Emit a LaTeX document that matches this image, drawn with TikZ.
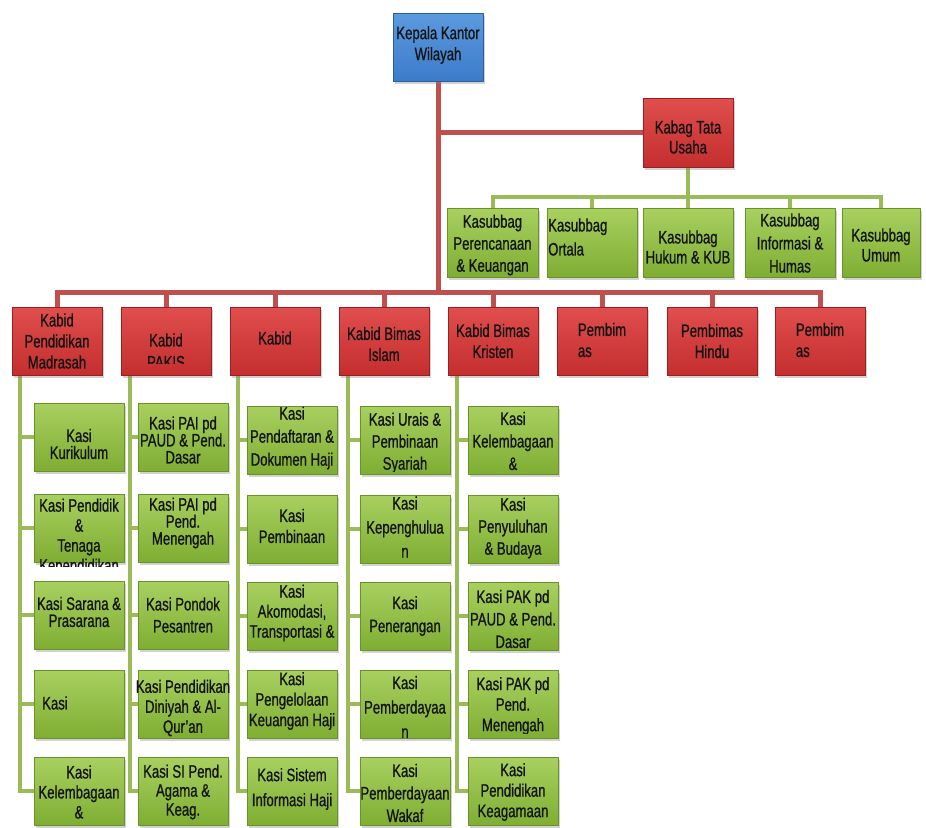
\documentclass[tikz,border=0pt]{standalone}
\usepackage{fontspec}
\setmainfont{Liberation Sans}[FakeStretch=0.73,FakeBold=0.8]
\usetikzlibrary{shadows}
\definecolor{gtop}{HTML}{A8D060}
\definecolor{gbot}{HTML}{7FAE33}
\definecolor{gborder}{HTML}{6B9226}
\definecolor{rtop}{HTML}{E04E4E}
\definecolor{rbot}{HTML}{C42E2E}
\definecolor{rborder}{HTML}{9A2020}
\definecolor{btop}{HTML}{5C9BE0}
\definecolor{bbot}{HTML}{3C7BC8}
\definecolor{bborder}{HTML}{2A5E9E}
\definecolor{rlinec}{HTML}{C0504D}
\definecolor{glinec}{HTML}{9BBB59}
\pgfdeclarelayer{bg}
\pgfsetlayers{bg,main}
\tikzset{
  boxbase/.style={rectangle, inner sep=0pt, line width=0.8pt,
    drop shadow={shadow xshift=2pt, shadow yshift=-3pt, opacity=0.35}},
  gbox/.style={boxbase, draw=gborder, top color=gtop, bottom color=gbot,
    minimum width=90pt, minimum height=68pt},
  rbox/.style={boxbase, draw=rborder, top color=rtop, bottom color=rbot,
    minimum width=90pt, minimum height=68pt},
  bbox/.style={boxbase, draw=bborder, top color=btop, bottom color=bbot,
    minimum width=90pt, minimum height=68pt},
  txt/.style={align=center, inner sep=0pt, text=black!92,
    font=\fontsize{18}{21}\selectfont},
  fs/.style={font=\fontsize{18}{#1}\selectfont},
  rline/.style={draw=rlinec, line width=5pt},
  gline/.style={draw=glinec, line width=4pt},
}
% name, box style, box centre, text options, clip inset, text
\newcommand\mybox[6]{%
  \node[#2] (#1) at (#3) {};
  \begin{scope}
    \clip ([xshift=-30pt,yshift=#5]#1.south west) rectangle ([xshift=30pt,yshift=4pt]#1.north east);
    \node[txt,#4] {#6};
  \end{scope}}
\begin{document}
\begin{tikzpicture}[x=1pt,y=-1pt]
\useasboundingbox (0,0) rectangle (926,827);
% top
\mybox{kakanwil}{bbox}{438,47}{at={(438,45)}}{0pt}{Kepala Kantor\\Wilayah}
\mybox{kabag}{rbox,minimum height=69pt}{688,132.5}{at={(688,137)},fs=20}{0pt}{Kabag Tata\\Usaha}
% kasubbag
\mybox{ks1}{gbox,minimum width=91pt,minimum height=69pt}{492.5,242.5}{at={(492.5,245)},fs=22}{2pt}{Kasubbag\\Perencanaan\\\& Keuangan}
\mybox{ks2}{gbox,minimum height=69pt}{592,242.5}{at={(548,237)},anchor=west,align=left,fs=24}{0pt}{Kasubbag\\Ortala}
\mybox{ks3}{gbox,minimum height=69pt}{688,242.5}{at={(688,247)},fs=20}{0pt}{Kasubbag\\Hukum \& KUB}
\mybox{ks4}{gbox,minimum height=69pt}{790,242.5}{at={(790,243)},fs=23}{2pt}{Kasubbag\\Informasi \&\\Humas}
\mybox{ks5}{gbox,minimum width=78pt,minimum height=69pt}{881,242.5}{at={(881,245)},fs=20}{0pt}{Kasubbag\\Umum}
% kabid
\mybox{kb1}{rbox}{57,341}{at={(57,341)}}{0pt}{Kabid\\Pendidikan\\Madrasah}
\mybox{kb2}{rbox}{166,341}{at={(166,351)},fs=22}{12pt}{Kabid\\PAKIS}
\mybox{kb3}{rbox}{275,341}{at={(275,338)}}{0pt}{Kabid}
\mybox{kb4}{rbox}{384,341}{at={(384,344)}}{0pt}{Kabid Bimas\\Islam}
\mybox{kb5}{rbox}{493,341}{at={(493,341)}}{0pt}{Kabid Bimas\\Kristen}
\mybox{kb6}{rbox}{602,341}{at={(602,340)},align=left}{0pt}{Pembim\\as}
\mybox{kb7}{rbox}{712,341}{at={(712,341)}}{0pt}{Pembimas\\Hindu}
\mybox{kb8}{rbox}{820,341}{at={(820,340)},align=left}{0pt}{Pembim\\as}
% column 1
\mybox{k11}{gbox}{79,437}{at={(79,444)},fs=17}{0pt}{Kasi\\Kurikulum}
\mybox{k12}{gbox}{79,528}{at={(79,537)},fs=20}{-4pt}{Kasi Pendidik\\\&\\Tenaga\\Kependidikan}
\mybox{k13}{gbox}{79,615}{at={(79,612)},fs=17}{0pt}{Kasi Sarana \&\\Prasarana}
\mybox{k14}{gbox}{79,704}{at={(42,703)},anchor=west}{0pt}{Kasi}
\mybox{k15}{gbox}{79,791}{at={(79,792)},fs=20}{0pt}{Kasi\\Kelembagaan\\\&}
% column 2
\mybox{k21}{gbox}{183,437}{at={(183,440)},fs=17}{0pt}{Kasi PAI pd\\PAUD \& Pend.\\Dasar}
\mybox{k22}{gbox}{183,528}{at={(183,523)},fs=17}{0pt}{Kasi PAI pd\\Pend.\\Menengah}
\mybox{k23}{gbox}{183,615}{at={(183,615)},fs=22}{0pt}{Kasi Pondok\\Pesantren}
\mybox{k24}{gbox}{183,704}{at={(183,708)},fs=20}{0pt}{Kasi Pendidikan\\Diniyah \& Al-\\Qur'an}
\mybox{k25}{gbox}{183,791}{at={(183,792)},fs=19}{2pt}{Kasi SI Pend.\\Agama \&\\Keag.}
% column 3
\mybox{k31}{gbox}{292,440}{at={(292,438)},fs=23}{0pt}{Kasi\\Pendaftaran \&\\Dokumen Haji}
\mybox{k32}{gbox}{292,529}{at={(292,526)}}{0pt}{Kasi\\Pembinaan}
\mybox{k33}{gbox}{292,616}{at={(292,613)},fs=20}{0pt}{Kasi\\Akomodasi,\\Transportasi \&}
\mybox{k34}{gbox}{292,704}{at={(292,701)},fs=20.5}{9pt}{Kasi\\Pengelolaan\\Keuangan Haji}
\mybox{k35}{gbox}{292,791}{at={(292,789)},fs=25}{0pt}{Kasi Sistem\\Informasi Haji}
% column 4
\mybox{k41}{gbox}{405,440}{at={(405,443)},fs=22}{3pt}{Kasi Urais \&\\Pembinaan\\Syariah}
\mybox{k42}{gbox}{405,529}{at={(405,527)},fs=24}{0pt}{Kasi\\Kepenghulua\\n}
\mybox{k43}{gbox}{405,616}{at={(405,616)},fs=23}{0pt}{Kasi\\Penerangan}
\mybox{k44}{gbox}{405,704}{at={(405,707)},fs=24.5}{0pt}{Kasi\\Pemberdayaa\\n}
\mybox{k45}{gbox}{405,791}{at={(405,793)},fs=22.5}{0pt}{Kasi\\Pemberdayaan\\Wakaf}
% column 5
\mybox{k51}{gbox}{513,440}{at={(513,441)},fs=22.5}{0pt}{Kasi\\Kelembagaan\\\&}
\mybox{k52}{gbox}{513,529}{at={(513,528)},fs=22}{0pt}{Kasi\\Penyuluhan\\\& Budaya}
\mybox{k53}{gbox}{513,616}{at={(513,619)},fs=22.5}{0pt}{Kasi PAK pd\\PAUD \& Pend.\\Dasar}
\mybox{k54}{gbox}{513,704}{at={(513,706)},fs=20.5}{5pt}{Kasi PAK pd\\Pend.\\Menengah}
\mybox{k55}{gbox}{513,791}{at={(513,792)},fs=20.5}{0pt}{Kasi\\Pendidikan\\Keagamaan}
% connectors
\path (0,292) coordinate (rbus) (0,197) coordinate (gbus);
\path (20,0) coordinate (v1) (130,0) coordinate (v2) (238,0) coordinate (v3)
      (348,0) coordinate (v4) (457,0) coordinate (v5);
\begin{pgfonlayer}{bg}
  \fill[white] (0,0) rectangle (926,827);
  \draw[rline] (kakanwil.south) -- (kakanwil.south |- rbus);
  \draw[rline] (kakanwil.south |- kabag.west) -- (kabag.west);
  \draw[rline] (kb1.north) -- (kb1.north |- rbus) -- (kb8.north |- rbus) -- (kb8.north);
  \foreach \k in {2,...,7} \draw[rline] (kb\k.north) -- (kb\k.north |- rbus);
  \draw[gline] (kabag.south) -- (kabag.south |- gbus);
  \draw[gline] (ks1.north) -- (ks1.north |- gbus) -- (ks5.north |- gbus) -- (ks5.north);
  \foreach \k in {2,3,4} \draw[gline] (ks\k.north) -- (ks\k.north |- gbus);
  \foreach \c in {1,...,5} {
    \draw[gline] (kb\c.south -| v\c) -- (v\c |- k\c5.west) -- (k\c5.west);
    \foreach \r in {1,...,4} \draw[gline] (v\c |- k\c\r.west) -- (k\c\r.west);
  }
\end{pgfonlayer}
\end{tikzpicture}
\end{document}
